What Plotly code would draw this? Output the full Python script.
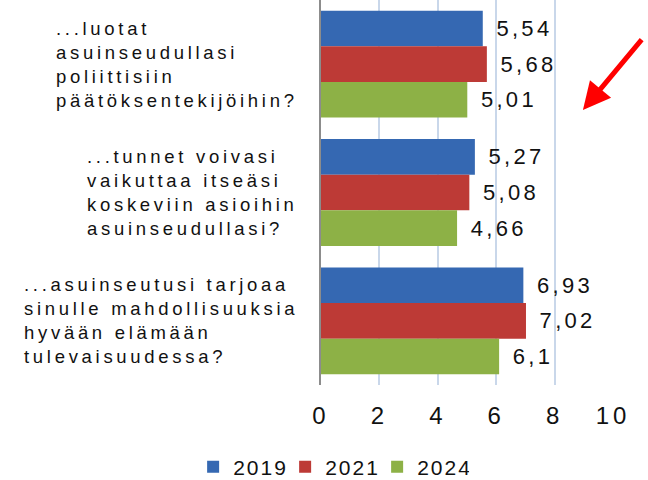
import plotly.graph_objects as go

# Question labels, one list entry per printed line
questions = [
    ["...luotat", "asuinseudullasi", "poliittisiin", "päätöksentekijöihin?"],
    ["...tunnet voivasi", "vaikuttaa itseäsi", "koskeviin asioihin", "asuinseudullasi?"],
    ["...asuinseutusi tarjoaa", "sinulle mahdollisuuksia", "hyvään elämään", "tulevaisuudessa?"],
]
years = ["2019", "2021", "2024"]
values_2019 = [5.54, 5.27, 6.93]
values_2021 = [5.68, 5.08, 7.02]
values_2024 = [5.01, 4.66, 6.1]
x_ticks = [0, 2, 4, 6, 8, 10]

colors = ["#3568B2", "#BD3A36", "#8DB146"]
FONT = "Liberation Sans, Arial, sans-serif"


def spaced(text, px=4):
    """Wrap text in a span with wider letter spacing (Excel-like look)."""
    return f'<span style="letter-spacing:{px}px">{text}</span>'


def fi_num(v):
    return f"{v:g}".replace(".", ",")


categories = [" ".join(q) for q in questions]

fig = go.Figure()
for year, vals, color in zip(years, [values_2019, values_2021, values_2024], colors):
    fig.add_trace(go.Bar(
        y=categories,
        x=vals,
        orientation="h",
        name=spaced(year, 2),
        marker=dict(color=color, line=dict(width=0)),
        text=[spaced("\u2004" + fi_num(v), 3.3) for v in vals],
        textposition="outside",
        constraintext="none",
        cliponaxis=False,
        textfont=dict(family=FONT, size=22, color="#111111"),
        hoverinfo="x+y",
    ))

# category labels: left aligned block sitting just left of the axis
for cat, lines in zip(categories, questions):
    fig.add_annotation(
        x=0, xref="paper", xshift=-21, xanchor="right",
        y=cat, yref="y", yanchor="middle",
        text="<br>".join(spaced(l, 3.7) for l in lines),
        align="left", showarrow=False,
        font=dict(family=FONT, size=18.5, color="#111111"),
    )

# red arrow in the top right corner
fig.add_annotation(
    x=0.897, y=0.714, xref="paper", yref="paper",
    ax=60, ay=-72, text="",
    showarrow=True, arrowhead=2, arrowsize=1.1, arrowwidth=5, arrowcolor="#FF0000",
)

fig.update_layout(
    width=648, height=480,
    margin=dict(l=321, r=35, t=0, b=95),
    plot_bgcolor="white", paper_bgcolor="white",
    barmode="group", bargap=0.167, bargroupgap=0,
    font=dict(family=FONT, color="#111111"),
    legend=dict(
        orientation="h", xref="container", yref="container",
        x=0.511, y=0.027, xanchor="center", yanchor="middle",
        font=dict(family=FONT, size=21, color="#111111"),
        traceorder="normal", entrywidth=47,
    ),
)
fig.update_xaxes(
    range=[0, 10], tickvals=x_ticks, ticktext=[spaced(str(t), 4) for t in x_ticks],
    showgrid=True, gridcolor="#C9D7EA", gridwidth=1.5,
    zeroline=False, showline=False, ticks="", ticklabelstandoff=14,
    tickfont=dict(family=FONT, size=24, color="#111111"),
)
fig.update_yaxes(
    autorange="reversed", showticklabels=False, showgrid=False, zeroline=False,
    showline=True, linecolor="#8C8C8C", linewidth=2,
)

# drop the browser's default body margin so the figure sits at the page corner
fig.write_html("out.html", config={"displayModeBar": False},
               post_script="document.body.style.margin='0';")
